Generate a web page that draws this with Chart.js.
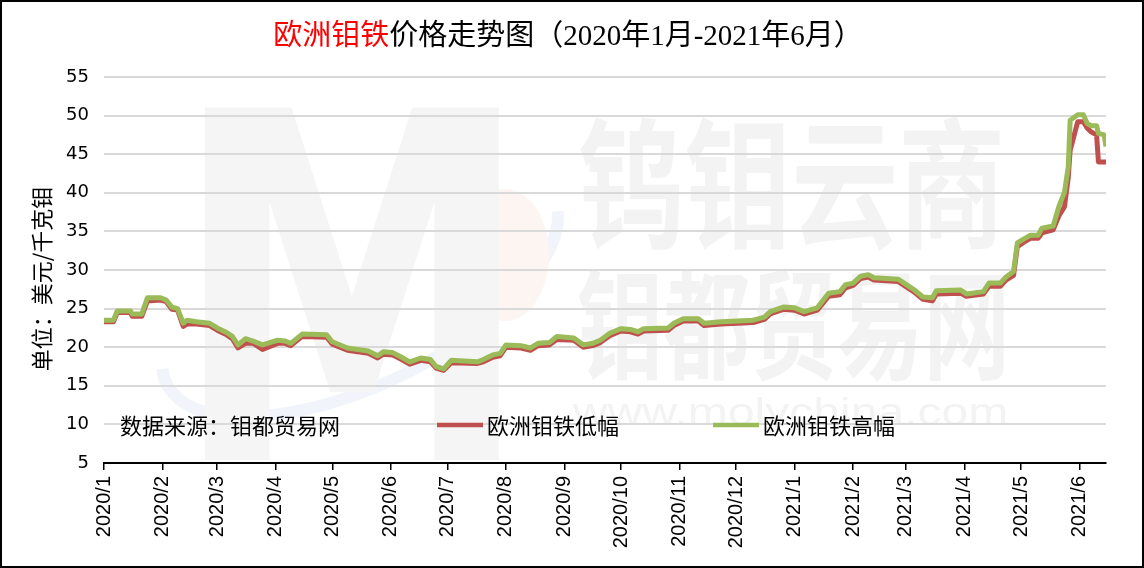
<!DOCTYPE html>
<html>
<head>
<meta charset="utf-8">
<script src="https://cdn.jsdelivr.net/npm/chart.js@4/dist/chart.umd.min.js"></script>
<style>
  html, body { margin: 0; padding: 0; background: #fff; }
  #price-chart { display: block; }
</style>
</head>
<body>
<canvas id="price-chart" width="1144" height="568"></canvas>
<script>
// ================== data ======================
const dates = [
  "2020-01-01", "2020-01-06", "2020-01-08", "2020-01-15", "2020-01-16", "2020-01-21",
  "2020-01-24", "2020-01-31", "2020-02-03", "2020-02-06", "2020-02-09", "2020-02-12",
  "2020-02-14", "2020-02-19", "2020-02-26", "2020-03-01", "2020-03-06", "2020-03-09",
  "2020-03-12", "2020-03-16", "2020-03-20", "2020-03-22", "2020-03-25", "2020-04-02",
  "2020-04-06", "2020-04-09", "2020-04-15", "2020-04-28", "2020-05-01", "2020-05-09",
  "2020-05-20", "2020-05-25", "2020-05-28", "2020-06-02", "2020-06-06", "2020-06-11",
  "2020-06-17", "2020-06-22", "2020-06-25", "2020-06-29", "2020-07-03", "2020-07-17",
  "2020-07-20", "2020-07-25", "2020-07-29", "2020-08-01", "2020-08-09", "2020-08-14",
  "2020-08-18", "2020-08-24", "2020-08-28", "2020-09-06", "2020-09-11", "2020-09-16",
  "2020-09-20", "2020-09-25", "2020-10-01", "2020-10-06", "2020-10-10", "2020-10-13",
  "2020-10-26", "2020-10-29", "2020-11-03", "2020-11-11", "2020-11-14", "2020-11-23",
  "2020-12-02", "2020-12-10", "2020-12-16", "2020-12-19", "2020-12-26", "2021-01-01",
  "2021-01-06", "2021-01-13", "2021-01-19", "2021-01-25", "2021-01-28", "2021-02-01",
  "2021-02-05", "2021-02-09", "2021-02-12", "2021-02-25", "2021-02-28", "2021-03-05",
  "2021-03-10", "2021-03-15", "2021-03-17", "2021-03-30", "2021-04-02", "2021-04-11",
  "2021-04-14", "2021-04-20", "2021-04-23", "2021-04-27", "2021-04-29", "2021-05-03",
  "2021-05-06", "2021-05-10", "2021-05-12", "2021-05-18", "2021-05-21", "2021-05-24",
  "2021-05-26", "2021-05-27", "2021-05-31", "2021-06-03", "2021-06-05", "2021-06-07",
  "2021-06-10", "2021-06-11", "2021-06-14", "2021-06-15",
];
const lowValues = [
  23.3, 23.3, 24.5, 24.5, 24.0, 24.0,
  26.0, 26.1, 25.9, 24.9, 24.8, 22.7,
  23.0, 23.0, 22.8, 22.2, 21.6, 21.1,
  19.9, 20.5, 20.5, 20.2, 19.7, 20.5,
  20.5, 20.2, 21.4, 21.3, 20.4, 19.6,
  19.2, 18.6, 19.1, 19.0, 18.5, 17.8,
  18.3, 18.1, 17.3, 17.0, 18.0, 17.9,
  18.1, 18.7, 18.9, 20.0, 19.9, 19.6,
  20.2, 20.3, 21.0, 20.9, 20.0, 20.2,
  20.6, 21.5, 22.1, 22.0, 21.7, 22.1,
  22.2, 22.8, 23.4, 23.4, 22.8, 23.0,
  23.1, 23.2, 23.6, 24.3, 24.9, 24.8,
  24.3, 24.8, 26.6, 26.8, 27.7, 28.0,
  28.9, 29.1, 28.7, 28.5, 28.0, 27.2,
  26.2, 26.0, 26.9, 27.0, 26.6, 26.9,
  27.9, 27.9, 28.7, 29.3, 33.0, 33.7,
  34.1, 34.1, 34.8, 35.2, 37.0, 38.2,
  42.0, 45.5, 49.2, 49.2, 48.4, 47.9,
  47.5, 44.0, 44.0, 44.0,
];
const highValues = [
  23.5, 23.5, 24.7, 24.7, 24.3, 24.3,
  26.4, 26.4, 26.1, 25.2, 25.0, 23.1,
  23.5, 23.3, 23.1, 22.5, 21.9, 21.4,
  20.3, 21.1, 20.8, 20.6, 20.3, 20.9,
  20.8, 20.5, 21.7, 21.6, 20.7, 19.9,
  19.5, 18.9, 19.4, 19.3, 18.8, 18.1,
  18.6, 18.4, 17.5, 17.2, 18.3, 18.1,
  18.4, 19.0, 19.2, 20.3, 20.2, 19.9,
  20.5, 20.6, 21.4, 21.2, 20.3, 20.5,
  20.9, 21.8, 22.4, 22.3, 22.0, 22.4,
  22.5, 23.1, 23.7, 23.7, 23.1, 23.3,
  23.4, 23.5, 23.9, 24.6, 25.2, 25.1,
  24.6, 25.1, 27.0, 27.2, 28.1, 28.3,
  29.2, 29.4, 29.0, 28.8, 28.3, 27.5,
  26.5, 26.4, 27.3, 27.4, 26.9, 27.2,
  28.3, 28.3, 29.1, 29.8, 33.5, 34.1,
  34.5, 34.5, 35.4, 35.7, 38.2, 40.1,
  43.4, 49.4, 50.1, 50.1, 49.0, 48.7,
  48.7, 47.7, 47.5, 46.0,
];
const monthTicks = [
  "2020-01-01", "2020-02-01", "2020-03-01", "2020-04-01", "2020-05-01", "2020-06-01",
  "2020-07-01", "2020-08-01", "2020-09-01", "2020-10-01", "2020-11-01", "2020-12-01",
  "2021-01-01", "2021-02-01", "2021-03-01", "2021-04-01", "2021-05-01", "2021-06-01",
];
const monthLabels = [
  "2020/1", "2020/2", "2020/3", "2020/4", "2020/5", "2020/6",
  "2020/7", "2020/8", "2020/9", "2020/10", "2020/11", "2020/12",
  "2021/1", "2021/2", "2021/3", "2021/4", "2021/5", "2021/6",
];
const lastDate = "2021-06-15";
const lowName = "欧洲钼铁低幅";
const highName = "欧洲钼铁高幅";

// days since 2020-01-01, used as x on a linear axis
function dayOf(s) {
  const p = s.split("-").map(Number);
  return (Date.UTC(p[0], p[1] - 1, p[2]) - Date.UTC(2020, 0, 1)) / 86400000;
}
const tickDays = monthTicks.map(dayOf);

const lowPoints = dates.map((d, i) => ({ x: dayOf(d), y: lowValues[i] }));
const highPoints = dates.map((d, i) => ({ x: dayOf(d), y: highValues[i] }));

const RED = "#C0504D";
const GREEN = "#9BBB59";
const CJK = '"Noto Sans CJK SC", "Noto Sans", sans-serif';

// ================== decorations ======================
function fitText(ctx, text, font, x0, y0, x1, y1, color) {
  ctx.save();
  ctx.font = font;
  ctx.textBaseline = "alphabetic";
  ctx.textAlign = "left";
  const m = ctx.measureText(text);
  const w = m.actualBoundingBoxLeft + m.actualBoundingBoxRight;
  const h = m.actualBoundingBoxAscent + m.actualBoundingBoxDescent;
  ctx.translate(x0, y0);
  ctx.scale((x1 - x0) / w, (y1 - y0) / h);
  ctx.fillStyle = color;
  ctx.fillText(text, m.actualBoundingBoxLeft, m.actualBoundingBoxAscent);
  ctx.restore();
}

const backdrop = {
  id: "backdrop",
  beforeDraw(chart) {
    const ctx = chart.ctx;
    ctx.save();
    ctx.fillStyle = "#fff";
    ctx.fillRect(0, 0, chart.width, chart.height);
    // faint watermark
    ctx.strokeStyle = "#f1f5fb";
    ctx.lineWidth = 12;
    ctx.beginPath();
    ctx.ellipse(360, 290, 215, 95, -0.45, 0.05 * Math.PI, 1.05 * Math.PI);
    ctx.stroke();
    ctx.fillStyle = "#fdf5f1";
    ctx.beginPath();
    ctx.ellipse(505, 255, 44, 66, 0, 0, Math.PI * 2);
    ctx.fill();
    ctx.restore();
    fitText(ctx, "M", 'bold 300px "DejaVu Sans"', 200, 105, 500, 460, "#f5f5f5");
    fitText(ctx, "钨钼云商", "bold 104px " + CJK, 580, 115, 1000, 252, "#f3f3f3");
    fitText(ctx, "钼都贸易网", "bold 86px " + CJK, 578, 267, 1004, 382, "#f3f3f3");
    fitText(ctx, "www.molychina.com", '60px "Liberation Sans"', 572, 398, 1006, 433, "#f3f3f3");
  },
  afterDraw(chart) {
    const ctx = chart.ctx;
    ctx.save();
    // title, first part in red
    ctx.font = '29px "Liberation Serif", ' + CJK;
    ctx.textBaseline = "middle";
    ctx.textAlign = "left";
    const t1 = "欧洲钼铁";
    const t2 = "价格走势图（2020年1月-2021年6月）";
    const w1 = ctx.measureText(t1).width;
    const w2 = ctx.measureText(t2).width;
    let tx = 568 - (w1 + w2) / 2;
    ctx.fillStyle = "#ff0000";
    ctx.fillText(t1, tx, 37);
    ctx.fillStyle = "#000";
    ctx.fillText(t2, tx + w1, 37);

    // y axis title
    ctx.font = "22px " + CJK;
    ctx.textAlign = "center";
    ctx.translate(42, 279);
    ctx.rotate(-Math.PI / 2);
    ctx.fillText("单位：美元/千克钼", 0, 0);
    ctx.setTransform(1, 0, 0, 1, 0, 0);

    // source note and legend
    ctx.font = "22px " + CJK;
    ctx.textAlign = "left";
    ctx.fillText("数据来源：钼都贸易网", 120, 426);
    const items = [
      { name: lowName, color: RED, x: 437 },
      { name: highName, color: GREEN, x: 713 },
    ];
    items.forEach((it) => {
      ctx.strokeStyle = it.color;
      ctx.lineWidth = 4.5;
      ctx.beginPath();
      ctx.moveTo(it.x, 425);
      ctx.lineTo(it.x + 46, 425);
      ctx.stroke();
      ctx.fillStyle = "#000";
      ctx.fillText(it.name, it.x + 50, 426);
    });

    // outer frame
    ctx.strokeStyle = "#000";
    ctx.lineWidth = 2;
    ctx.strokeRect(1, 1, chart.width - 2, chart.height - 2);
    ctx.restore();
  },
};

// ================== chart ======================
const priceChart = new Chart(document.getElementById("price-chart"), {
  type: "line",
  data: {
    datasets: [
      {
        label: lowName,
        data: lowPoints,
        borderColor: RED,
        borderWidth: 5,
        pointRadius: 0,
        borderJoinStyle: "round",
        order: 1,
      },
      {
        label: highName,
        data: highPoints,
        borderColor: GREEN,
        borderWidth: 5,
        pointRadius: 0,
        borderJoinStyle: "round",
        order: 0,
      },
    ],
  },
  options: {
    responsive: false,
    devicePixelRatio: 1,
    animation: false,
    layout: { padding: { top: 77, right: 38, left: 0, bottom: 0 } },
    plugins: {
      legend: { display: false },
      title: { display: false },
      tooltip: { enabled: false },
    },
    scales: {
      x: {
        type: "linear",
        min: 0,
        max: dayOf(lastDate),
        afterBuildTicks: (scale) => {
          scale.ticks = tickDays.map((v) => ({ value: v }));
        },
        afterFit: (scale) => {
          scale.height = 105;
        },
        ticks: {
          autoSkip: false,
          minRotation: 90,
          maxRotation: 90,
          padding: 6,
          color: "#000",
          font: { family: '"Liberation Sans", Arial, sans-serif', size: 20 },
          callback: (value) => monthLabels[tickDays.indexOf(value)],
        },
        grid: {
          drawOnChartArea: false,
          color: "#000",
          lineWidth: 1.5,
          tickLength: 7,
        },
        border: { color: "#000", width: 2 },
      },
      y: {
        min: 5,
        max: 55,
        afterFit: (scale) => {
          scale.width = 104;
        },
        ticks: {
          stepSize: 5,
          padding: 15,
          color: "#000",
          font: { family: '"DejaVu Sans", sans-serif', size: 18 },
        },
        grid: {
          drawTicks: false,
          lineWidth: 2,
          color: (c) => (c.tick && c.tick.value === 5 ? "rgba(0,0,0,0)" : "#d9d9d9"),
        },
        border: { display: false },
      },
    },
  },
  plugins: [backdrop],
});
</script>
</body>
</html>
